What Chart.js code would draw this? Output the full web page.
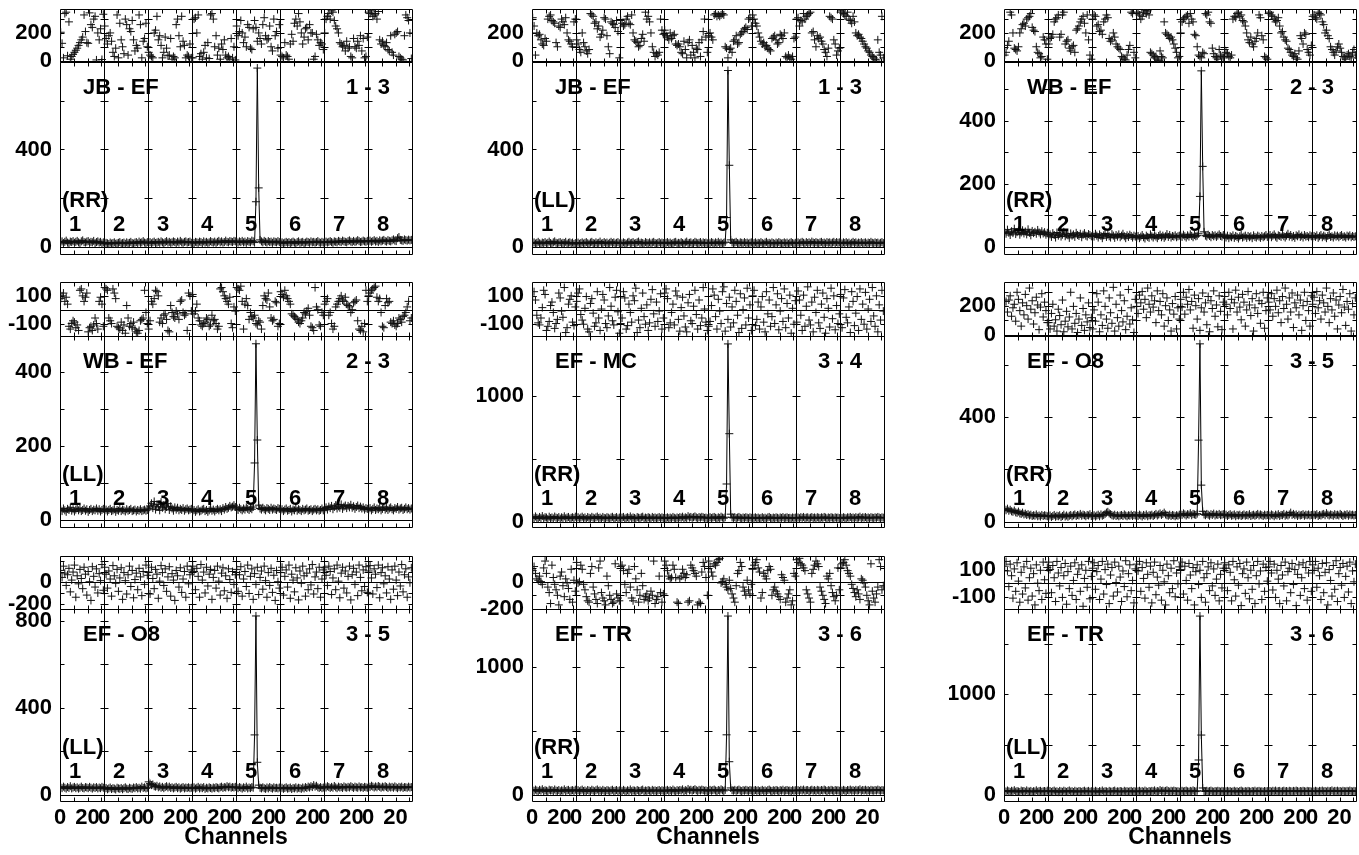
<!DOCTYPE html>
<html>
<head>
<meta charset="utf-8">
<title>POSSM spectra</title>
<script src="https://cdn.jsdelivr.net/npm/chart.js@4.4.1/dist/chart.umd.min.js"></script>
<style>
  html, body { margin: 0; padding: 0; background: #fff; }
  #wrap { position: relative; width: 1359px; height: 855px; overflow: hidden; background: #fff; }
  #wrap canvas { position: absolute; }
</style>
</head>
<body>
<div id="wrap"></div>
<script>
// ---- data: 8 IFs x 32 channels per baseline ----
const NCHAN = 32;
const NIF = 8;
const ifLabels = ['1', '2', '3', '4', '5', '6', '7', '8'];
const baselineNames = ['JB - EF', 'JB - EF', 'WB - EF', 'WB - EF', 'EF - MC', 'EF - O8', 'EF - O8', 'EF - TR', 'EF - TR'];
const antennaPairs = ['1 - 3', '1 - 3', '2 - 3', '2 - 3', '3 - 4', '3 - 5', '3 - 5', '3 - 6', '3 - 6'];
const polarizations = ['(RR)', '(LL)', '(RR)', '(LL)', '(RR)', '(RR)', '(LL)', '(RR)', '(LL)'];
const channelTickLabels = [0, 20];
const channelTickMarks = [10, 20, 30];
const xTitle = 'Channels';

// phase (degrees)
const phase1 = [ // JB - EF RR
  205,125,20,340,350,35,280,10,30,45,60,75,90,110,130,150,170,330,210,130,125,345,260,240,300,320,5,200,150,230,8,335,
  250,160,120,180,200,140,60,30,90,330,20,270,150,100,50,300,260,40,230,210,290,150,70,110,90,330,260,20,140,160,270,100,
  60,40,30,20,200,220,320,150,180,110,20,60,170,90,35,40,160,10,30,20,260,300,180,100,320,140,110,20,40,30,120,20,
  20,300,310,200,330,30,50,10,60,110,20,130,15,330,340,300,100,180,40,90,10,120,80,150,40,20,30,10,160,20,100,5,
  250,180,210,290,200,130,170,100,260,240,90,80,230,290,240,140,200,160,120,260,310,180,150,160,250,100,70,300,180,210,90,260,
  40,30,20,130,40,30,10,120,190,140,270,300,250,340,280,200,120,170,230,240,150,260,200,200,10,30,190,150,110,130,120,80,
  200,300,320,340,300,360,350,290,250,230,200,130,120,100,110,70,140,90,100,30,20,160,100,90,140,110,180,70,160,20,30,170,
  350,340,360,320,330,340,300,355,150,120,140,110,100,130,80,70,180,60,40,190,200,210,30,20,10,5,180,330,310,290,200,15];
const phase2 = [ // JB - EF LL
  310,250,40,200,180,190,150,120,110,160,140,300,320,330,290,280,270,130,100,250,240,300,280,260,310,200,150,140,120,100,280,300,
  150,120,80,60,200,130,100,70,50,80,340,330,320,270,280,230,250,170,190,220,310,300,180,100,50,280,270,260,240,290,210,20,
  290,270,250,260,300,320,270,260,330,200,150,140,130,100,110,160,190,140,350,300,320,280,200,100,60,30,50,40,60,300,220,190,
  220,180,170,150,200,160,180,190,120,110,120,100,60,50,140,80,20,130,150,40,110,60,20,90,80,130,30,150,210,300,170,60,
  180,200,170,150,330,340,320,330,320,330,340,330,100,90,20,80,90,60,140,150,180,120,130,190,200,210,230,240,225,300,310,250,
  330,300,270,250,200,170,140,120,130,100,110,90,80,70,160,170,180,150,120,130,190,180,160,200,30,20,40,20,10,30,160,170,
  300,310,250,290,280,340,300,320,330,340,350,200,210,150,100,180,160,170,140,120,80,60,30,90,320,310,300,150,120,40,70,90,
  350,360,340,330,320,350,300,290,270,320,280,200,180,190,170,160,140,120,100,90,70,60,40,30,20,10,5,150,60,40,320,20];
const phase3 = [ // WB - EF RR
  40,60,110,140,350,330,200,90,80,70,100,200,230,260,270,250,300,310,320,340,240,220,210,100,60,50,20,30,170,150,120,10,
  120,160,170,190,280,300,310,330,170,190,330,350,120,140,150,90,70,100,110,60,220,230,250,280,300,320,270,200,330,150,40,10,
  300,330,320,250,260,210,220,190,280,300,330,310,160,140,150,200,170,120,100,90,80,30,20,10,5,40,80,110,350,340,60,20,
  340,350,330,300,320,350,360,340,360,330,60,50,40,20,30,10,0,70,30,20,280,200,190,180,160,170,150,120,90,60,20,30,
  200,280,300,310,320,330,270,340,300,280,190,180,100,40,30,20,60,50,340,330,350,280,270,90,50,30,20,10,80,40,30,20,
  80,60,50,30,20,40,300,320,310,340,350,320,330,290,280,250,200,150,130,170,120,100,140,160,200,330,310,180,150,30,20,10,
  340,350,330,320,300,280,290,310,250,200,210,170,150,140,90,80,60,40,30,50,20,10,70,180,160,120,200,190,80,60,40,110,
  320,330,310,300,350,340,330,280,260,200,220,180,160,100,80,60,40,70,100,120,90,60,30,20,10,40,50,30,20,60,80,40];
const phase4 = [ // WB - EF LL
  80,100,120,60,90,40,-120,-140,-100,-80,-90,-130,-110,-150,140,150,100,60,90,120,-160,-130,-120,-150,-110,-60,-100,-140,60,90,40,-120,
  160,150,140,-60,-80,-100,150,120,80,-120,-130,-140,-90,-150,-110,-170,30,-60,-120,-100,-130,-90,-140,-160,-170,-150,-80,-70,-60,140,-20,-100,
  -140,-80,60,40,80,140,130,100,-90,-60,-100,-40,-30,-70,-150,-160,30,-20,-50,-60,-10,-30,-70,60,70,-20,-40,-30,-150,120,100,-10,
  110,-30,-10,40,-60,-80,-110,-120,-100,-90,-60,-70,-120,-110,-40,-80,-70,-100,-140,-120,150,160,130,100,80,60,40,90,-100,-130,20,-10,
  160,150,140,170,60,-140,40,80,30,-70,-20,-50,-60,-40,-100,-110,-80,-90,-140,30,100,80,70,120,20,-60,-80,-70,60,50,-120,-100,
  130,110,90,140,100,80,60,40,-30,-40,-50,-60,-70,-90,-100,-80,-60,-20,-30,-10,10,-40,-120,-130,-150,160,20,0,-110,-120,-20,-40,
  40,60,80,-40,-20,-100,-140,-120,20,40,60,80,100,70,60,90,40,30,20,-20,0,50,60,70,-80,-140,-150,-120,-160,-100,140,60,
  100,120,140,150,160,170,90,60,80,-20,-120,-130,30,80,50,60,-90,-100,-80,-110,-120,-100,-60,-70,-90,-50,-40,-20,20,60,-80,-60];
const phase5 = [ // EF - MC RR
  95,130,70,-40,-95,-110,-60,15,140,110,-150,-120,-85,30,55,-20,-135,-100,-70,120,85,-10,-55,160,-165,-130,40,75,100,-90,-115,20,
  60,120,150,-35,-75,-105,10,95,-140,-160,45,80,-25,-120,-95,130,-60,-150,5,110,70,-100,-130,-45,160,25,-80,-110,90,140,-15,-170,
  -100,-60,130,85,-140,-115,40,-20,-90,100,65,155,-165,-75,-130,10,120,-50,-105,35,-150,-95,75,145,-30,-120,55,-85,-10,115,-140,-60,
  120,150,80,-130,-95,-20,40,-110,135,100,-70,-155,15,90,-45,-125,-160,50,110,-80,-100,25,140,-35,-140,70,-115,-60,160,5,-90,-150,
  -120,-85,30,150,105,-50,-140,75,-10,-100,130,165,-155,45,-70,90,-125,20,-95,140,60,-40,-165,115,-135,0,85,-110,155,-60,35,-150,
  100,140,-115,-70,55,-140,20,95,-90,-160,130,-30,70,-120,-50,160,-100,35,115,-145,-10,80,-85,150,-130,45,-60,105,-170,10,-105,65,
  -90,135,70,-40,-150,105,-120,25,165,-75,-110,55,-160,90,-20,140,-95,-135,40,120,-55,-170,80,10,-125,155,-65,100,-145,30,-100,-30,
  110,-130,85,145,-55,-95,20,-165,130,60,-115,-25,95,-150,150,-70,40,-105,125,-140,5,75,-85,160,-45,-120,100,-160,35,-75,140,-10];
const phase6 = [ // EF - O8 RR
  200,235,160,245,275,130,190,215,95,300,250,170,60,225,140,285,205,110,330,180,240,75,155,265,210,35,195,290,125,230,170,85,
  85,40,150,215,60,105,25,180,135,70,245,20,95,165,55,125,300,40,200,80,150,15,110,260,65,185,30,140,90,225,50,120,
  40,175,95,290,230,20,140,65,310,200,110,45,260,155,80,335,25,215,120,60,280,170,90,240,35,130,320,75,190,105,15,250,
  200,150,280,225,305,180,250,120,330,215,160,275,195,240,85,310,170,235,140,290,60,205,260,100,175,25,220,145,270,40,190,110,
  250,195,300,145,265,215,320,175,235,45,280,205,110,255,30,190,295,160,225,70,270,20,240,185,310,130,210,55,275,165,35,230,
  270,215,140,300,185,250,40,225,315,160,265,195,105,285,230,60,175,305,210,135,255,25,190,290,150,240,80,220,300,45,170,260,
  230,175,290,130,255,200,315,155,240,85,270,185,330,215,110,260,160,295,50,225,190,280,140,245,30,205,300,100,235,170,60,275,
  215,265,150,305,190,240,110,280,225,160,330,200,85,255,175,295,130,245,40,210,270,155,320,195,65,235,180,290,25,220,140,260];
const phase7 = [ // EF - O8 LL
  110,45,150,85,-30,70,130,-90,20,95,160,-140,60,-15,120,35,-60,140,75,-120,100,5,-170,145,55,-45,125,-100,80,15,165,-75,
  140,75,-55,105,30,-130,155,60,-10,120,-85,40,135,-160,90,15,-110,70,150,-40,110,-145,25,85,-70,130,50,-125,100,-20,160,65,
  95,-110,140,35,-60,120,75,-150,10,155,90,-30,125,-85,50,145,-130,80,20,-170,110,60,-45,135,-95,30,100,-140,150,-15,70,115,
  150,100,-70,130,55,-140,165,20,95,-100,140,-35,75,120,-160,45,110,-55,150,10,-120,85,135,-80,60,-150,125,25,-95,100,-20,70,
  120,-85,70,145,-130,30,100,-40,160,-105,55,125,-160,80,-20,140,-115,45,105,-65,150,15,-140,90,-30,130,-95,65,-170,110,5,-55,
  90,140,-120,55,115,-45,160,-150,75,20,-90,135,40,-165,105,-10,150,60,-130,85,-70,125,-25,165,-110,50,95,-60,140,-140,30,115,
  135,65,-30,150,100,-115,40,125,-70,160,10,-145,85,140,-55,105,-100,55,150,-165,70,130,-20,95,-125,160,45,-80,115,-40,145,-95,
  105,155,40,-110,125,75,-50,160,-145,90,135,-15,60,-100,145,30,-160,115,-65,150,20,-125,95,-35,165,-90,70,125,-140,50,-5,135];
const phase8 = [ // EF - TR RR
  80,110,60,20,10,40,0,-20,100,150,60,-40,-80,-160,120,30,-20,-60,-100,-170,40,70,-30,-110,20,-10,-50,-130,90,-150,10,-70,
  140,-10,0,120,90,-20,-60,-110,-140,-150,60,110,-40,-90,-130,-160,100,150,-80,-120,-140,-170,40,-30,-100,-130,-160,-150,130,-90,-120,-140,
  110,120,80,-20,-80,60,90,-40,-120,-140,110,20,-60,-150,-100,60,-30,-130,-110,-90,-140,-120,-70,-100,150,-160,-130,-110,40,-80,-150,-90,
  150,120,80,40,20,30,120,90,30,-150,-160,20,40,90,60,30,50,-150,-140,120,100,80,60,40,-170,-150,-160,70,140,110,30,-100,
  150,110,70,40,130,120,140,160,170,-10,0,20,-20,-40,-60,10,-50,-90,-120,-150,-30,60,80,140,110,-40,-70,-100,10,-60,-90,-20,
  90,120,140,160,100,70,-120,-80,60,40,20,80,110,90,-100,-60,-40,-70,-90,-110,-130,50,30,10,-150,-120,-90,-60,-170,-140,60,40,
  160,140,170,130,120,100,80,-60,-90,-120,-150,60,90,120,150,130,110,-40,-70,-100,-130,-160,40,20,60,-30,-80,-110,-140,-100,100,-60,
  100,130,140,160,120,80,60,40,-20,-50,-80,-110,-60,-90,-130,20,10,-10,-40,-100,-140,-170,130,-70,-120,-150,-90,-40,160,110,-60,-30];
const phase9 = [ // EF - TR LL
  125,160,90,-25,140,55,-110,105,-60,150,15,-140,80,-80,120,-35,160,-125,40,110,-95,70,-160,135,0,-55,95,-120,155,25,-75,115,
  155,100,-70,130,40,-135,160,75,-20,115,-105,55,145,-155,85,-40,125,-90,20,150,-120,65,105,-60,135,-170,35,95,-30,160,-115,50,
  110,150,-45,85,130,-120,30,160,-80,100,-10,140,-150,60,115,-95,155,5,-65,125,45,-135,90,-25,165,-100,70,135,-55,20,-145,105,
  140,90,160,-60,115,35,-110,150,65,-30,125,-145,80,155,-85,45,-15,130,-125,95,10,-160,140,55,-70,110,-40,165,-100,75,-5,120,
  100,155,-80,125,20,-125,145,60,-40,115,-160,85,135,-10,95,-105,160,40,-140,70,120,-55,150,-20,105,-90,30,140,-130,65,-35,110,
  150,110,-55,135,80,-130,160,25,-95,120,-15,145,-165,70,105,-75,155,40,-115,95,-45,130,-150,55,160,-5,90,-120,140,-60,115,15,
  120,160,75,-50,140,-105,95,30,-150,130,60,-20,155,-130,85,110,-70,145,-10,100,-165,65,135,-90,40,150,-40,115,-125,75,160,-60,
  135,95,160,-30,110,55,-120,145,-70,80,150,-160,100,20,-95,130,-45,165,-135,70,115,-15,145,-105,50,125,-65,155,-150,90,10,140];

// amplitude
const amp1 = [ // JB - EF RR
  18,22,15,20,25,17,14,21,19,23,16,20,24,18,15,22,26,19,17,21,23,16,20,18,24,15,19,22,17,20,14,18,
  12,16,14,11,17,13,15,18,12,14,16,19,13,15,17,12,18,14,16,20,15,13,17,19,14,21,16,18,23,17,15,19,
  16,19,14,18,21,15,17,20,16,22,18,15,19,23,17,20,16,18,22,19,15,21,17,24,18,16,20,22,17,19,21,16,
  17,15,20,18,16,21,19,15,22,17,20,16,18,23,19,17,21,16,20,24,18,22,17,19,25,20,18,23,21,19,24,22,
  20,17,22,19,24,18,21,16,23,20,18,25,22,17,185,735,242,28,22,18,24,20,17,23,19,21,16,22,20,18,23,19,
  15,18,14,17,20,16,19,15,18,21,17,14,19,22,16,18,20,15,17,21,19,16,22,18,20,17,19,23,18,16,20,17,
  18,21,17,20,23,19,16,22,20,18,24,21,19,25,22,20,18,23,26,21,19,24,20,22,27,23,19,21,25,22,20,24,
  22,25,20,23,27,21,24,19,26,22,25,28,23,21,27,24,22,26,30,25,23,35,40,28,26,24,30,27,25,29,26,28];
const amp2 = [ // JB - EF LL
  15,18,13,16,20,14,12,17,15,19,13,16,21,15,12,18,22,16,14,17,19,13,16,15,20,12,16,18,14,17,11,15,
  14,17,12,15,18,13,16,19,14,12,17,20,15,13,18,14,16,21,13,15,19,14,17,12,16,20,15,18,13,16,19,14,
  16,13,18,15,12,17,20,14,16,19,13,15,18,21,14,17,15,12,19,16,14,18,13,17,20,15,13,16,19,14,17,15,
  13,16,19,14,17,12,15,18,20,13,16,14,19,15,12,17,21,14,16,18,13,15,20,17,14,16,19,13,18,15,17,14,
  17,14,19,16,13,18,15,20,14,17,12,16,19,120,725,335,28,18,14,17,20,15,13,18,16,14,19,15,17,13,16,18,
  12,15,18,13,16,14,19,15,12,17,20,14,16,13,18,15,12,17,14,19,16,13,15,18,14,17,12,16,19,15,13,16,
  15,18,14,17,20,16,13,19,15,18,14,21,17,15,19,16,14,18,20,15,17,13,19,16,18,14,17,20,15,19,16,18,
  16,13,18,15,19,14,17,12,16,20,15,18,13,17,15,19,14,16,18,13,17,15,20,16,14,18,15,17,13,16,19,15];
const amp3 = [ // WB - EF RR
  48,42,55,45,38,50,44,58,41,47,52,39,46,53,43,49,40,56,45,37,51,44,48,42,54,46,40,50,43,47,39,45,
  35,40,32,44,38,30,46,36,42,33,39,48,34,41,37,29,43,36,40,32,45,38,35,42,31,39,44,36,33,41,38,34,
  38,33,42,36,30,40,35,28,37,43,32,39,34,30,41,36,29,38,33,40,31,36,42,34,28,37,32,39,35,30,36,33,
  30,35,28,33,38,31,27,36,32,29,40,34,30,37,33,28,35,39,31,36,29,34,41,32,38,30,35,33,37,31,34,36,
  36,32,39,34,30,37,33,40,35,31,38,34,36,42,160,557,255,48,36,33,39,35,31,38,34,37,32,36,40,35,33,38,
  33,30,36,28,34,31,37,29,35,32,27,34,38,30,33,36,29,35,31,34,28,37,32,30,36,33,29,35,31,34,38,32,
  34,38,31,36,40,33,29,37,35,32,39,34,30,36,42,33,38,31,35,29,37,34,40,32,36,30,38,33,35,31,37,34,
  30,35,32,37,29,34,38,31,36,33,28,35,39,32,34,30,37,33,36,31,35,38,32,34,30,36,33,37,31,35,32,34];
const amp4 = [ // WB - EF LL
  28,24,31,26,22,30,27,33,25,29,23,28,32,26,30,24,27,31,25,29,22,27,30,24,28,26,31,25,29,23,27,30,
  25,28,23,27,30,24,26,29,22,27,25,31,24,28,26,23,29,25,27,30,24,26,28,23,27,25,29,24,26,28,25,27,
  30,38,45,32,50,28,42,36,26,48,33,40,29,35,44,27,37,31,25,34,28,33,26,30,27,32,25,29,31,26,28,30,
  24,27,22,26,29,23,25,28,30,24,27,22,26,31,25,28,23,27,30,26,29,24,32,28,35,30,33,38,34,36,40,35,
  30,27,33,29,26,31,28,34,30,27,32,29,35,154,476,216,40,31,28,33,29,26,32,30,27,33,28,31,29,27,32,30,
  26,29,24,28,31,25,27,30,23,28,26,32,25,29,27,24,30,26,28,31,25,27,29,24,28,30,26,29,25,27,31,26,
  30,34,28,36,32,38,29,35,40,31,37,33,42,30,36,39,32,38,34,41,33,37,30,35,39,32,36,31,34,28,32,30,
  28,32,26,30,34,27,31,29,33,26,30,35,28,32,27,31,34,29,26,32,30,35,28,31,33,27,30,34,29,32,28,31];
const amp5 = [ // EF - MC RR
  35,28,42,31,25,38,30,45,27,36,33,22,40,29,34,26,41,32,28,37,24,35,30,43,27,33,38,25,31,36,29,40,
  30,36,25,33,40,28,34,22,37,31,27,39,32,26,35,41,29,33,24,38,30,27,36,32,25,34,39,28,31,37,26,33,
  28,33,38,25,31,36,29,42,27,34,30,24,37,32,28,35,40,26,33,29,36,31,25,38,30,34,27,32,37,28,35,30,
  25,30,35,28,33,27,38,31,26,34,29,36,32,40,28,35,30,44,33,38,31,36,42,34,29,37,32,39,35,30,33,28,
  32,36,29,34,38,31,27,35,30,40,33,28,36,300,1414,700,60,35,30,36,29,33,38,31,27,34,30,36,32,28,35,31,
  27,31,35,29,33,26,30,36,28,32,25,34,38,30,27,33,29,35,31,26,34,30,37,28,32,35,29,31,27,34,30,33,
  30,34,28,36,31,38,29,33,35,27,32,37,30,34,28,36,32,29,35,31,38,33,27,34,30,36,32,28,35,31,33,29,
  33,29,36,31,27,35,32,38,30,34,28,36,31,33,40,29,35,32,37,30,34,28,36,32,30,35,31,38,33,29,35,32];
const amp6 = [ // EF - O8 RR
  48,44,50,42,46,40,38,43,36,34,39,32,30,35,28,31,26,29,24,27,22,25,23,28,21,24,20,26,22,25,23,21,
  20,24,18,22,26,19,23,21,25,18,22,27,20,24,19,23,26,21,25,28,22,26,24,30,23,27,25,21,26,24,29,22,
  22,25,20,24,27,21,28,23,26,30,35,38,32,29,25,23,27,22,25,21,24,26,22,28,24,21,25,23,27,22,26,24,
  25,22,27,24,20,26,23,28,21,25,24,27,22,26,30,24,28,32,26,30,35,28,25,23,27,22,26,24,21,25,23,27,
  30,26,32,28,24,29,27,33,25,30,28,26,31,312,680,140,40,28,25,30,27,23,29,26,31,24,28,26,30,25,27,29,
  24,27,22,26,29,23,25,28,21,26,24,27,22,25,28,23,26,24,29,22,25,27,23,26,30,24,28,25,22,27,24,26,
  26,23,28,25,21,27,24,29,22,26,25,30,23,27,24,28,35,26,30,25,28,22,27,24,26,29,23,27,25,28,24,26,
  23,27,25,29,22,26,24,28,30,25,33,27,24,28,26,23,29,25,27,24,30,26,22,27,25,29,23,28,25,27,24,26];
const amp7 = [ // EF - O8 LL
  35,31,38,33,29,36,32,40,30,34,37,31,35,29,33,38,32,30,36,34,31,37,33,29,35,32,36,30,34,31,37,33,
  28,32,26,30,34,27,31,29,25,33,30,28,32,26,31,35,29,27,33,30,28,34,31,36,30,33,29,38,32,35,30,33,
  60,52,45,48,40,38,42,35,39,33,37,31,36,40,34,38,32,35,30,34,37,31,35,29,33,36,30,34,32,35,31,33,
  32,35,29,33,37,30,34,31,36,28,33,30,35,32,29,34,31,36,33,30,35,38,32,36,34,40,35,38,33,36,34,37,
  34,31,36,33,29,35,32,38,30,34,31,36,33,276,823,150,45,33,30,35,31,28,34,30,36,32,29,35,31,33,30,34,
  30,33,28,32,35,29,31,34,27,32,30,35,29,33,31,28,34,30,36,32,38,34,40,36,45,38,42,35,32,36,31,34,
  38,34,40,36,32,37,33,41,35,31,38,34,36,32,39,35,33,37,34,40,36,32,38,35,33,39,34,36,32,37,35,33,
  40,36,42,38,34,39,35,41,37,33,38,35,40,36,32,38,34,37,33,39,35,31,37,34,38,32,36,35,33,38,34,36];
const amp8 = [ // EF - TR RR
  38,32,42,35,30,40,34,45,31,37,33,28,41,35,38,30,43,34,32,39,29,36,33,44,31,37,40,30,35,38,32,41,
  33,38,29,36,42,31,35,27,39,34,30,41,35,29,37,43,32,36,28,40,33,30,38,35,29,36,41,31,34,39,30,36,
  35,30,40,33,28,37,32,43,30,36,34,29,39,33,31,37,42,30,35,32,38,34,29,40,33,36,31,35,39,30,37,33,
  30,35,40,32,37,31,42,34,29,38,33,39,35,44,31,38,33,47,36,41,34,39,45,37,32,40,35,42,38,33,36,31,
  36,40,33,38,42,35,31,39,34,44,37,32,40,470,1398,260,55,38,34,40,33,37,42,35,31,38,34,40,36,32,39,35,
  31,35,39,33,37,30,34,40,32,36,29,38,42,34,31,37,33,39,35,30,38,34,41,32,36,39,33,35,31,38,34,37,
  34,38,32,40,35,42,33,37,39,31,36,41,34,38,32,40,36,33,39,35,42,37,31,38,34,40,36,32,39,35,37,33,
  37,33,40,35,31,39,36,42,34,38,32,40,35,37,44,33,39,36,41,34,38,32,40,36,34,39,35,42,37,33,39,36];
const amp9 = [ // EF - TR LL
  40,34,45,37,31,42,36,48,33,39,35,30,44,37,40,32,46,36,34,41,31,38,35,47,33,39,42,32,37,40,34,43,
  35,40,31,38,44,33,37,29,41,36,32,43,37,31,39,45,34,38,30,42,35,32,40,37,31,38,43,33,36,41,32,38,
  37,32,42,35,30,39,34,45,32,38,36,31,41,35,33,39,44,32,37,34,40,36,31,42,35,38,33,37,41,32,39,35,
  32,37,42,34,39,33,44,36,31,40,35,41,37,46,33,40,35,49,38,43,36,41,47,39,34,42,37,44,40,35,38,33,
  38,42,35,40,44,37,33,41,36,46,39,34,42,347,1772,594,70,40,36,42,35,39,44,37,33,40,36,42,38,34,41,37,
  33,37,41,35,39,32,36,42,34,38,31,40,44,36,33,39,35,41,37,32,40,36,43,34,38,41,35,37,33,40,36,39,
  36,40,34,42,37,44,35,39,41,33,38,43,36,40,34,42,38,35,41,37,44,39,33,40,36,42,38,34,41,37,39,35,
  39,35,42,37,33,41,38,44,36,40,34,42,37,39,46,35,41,38,43,36,40,34,42,38,36,41,37,44,39,35,41,38];

const phaseSeries = [phase1, phase2, phase3, phase4, phase5, phase6, phase7, phase8, phase9];
const ampSeries = [amp1, amp2, amp3, amp4, amp5, amp6, amp7, amp8, amp9];

// axis ranges / tick labels per panel
const phaseRange = [[-10, 373], [-10, 373], [-10, 373], [-190, 200], [-190, 200], [-10, 373], [-250, 245], [-200, 187], [-190, 200]];
const phaseTicks = [[0, 200], [0, 200], [0, 200], [-100, 100], [-100, 100], [0, 200], [-200, 0], [-200, 0], [-100, 100]];
const ampRange = [[-30, 760], [-30, 760], [-22, 585], [-19, 497], [-42, 1477], [-20, 710], [-28, 855], [-47, 1453], [-59, 1842]];
const ampTicks = [[0, 400], [0, 400], [0, 200, 400], [0, 200, 400], [0, 1000], [0, 400], [0, 400, 800], [0, 1000], [0, 1000]];
const ampTickStep = [200, 200, 100, 100, 500, 200, 200, 500, 500];

// ---- layout ----
const W = 1359, H = 855, OFF = 30;
const colLeft = [60, 532, 1004];
const plotW = 352;
const phaseTop = [9, 282, 556];
const ampTop = [62, 336, 609];
const ampBottom = [254, 527, 801];
const Y_AXIS_W = 55, X_AXIS_H = 54;
const FONT = '"Liberation Sans", Arial, Helvetica, sans-serif';

Chart.defaults.font.family = FONT;

const possmPlugin = {
  id: 'possm',
  beforeDatasetsDraw(chart, args, opts) {
    const { ctx, chartArea: a } = chart;
    const xs = chart.scales.x, ys = chart.scales.y;
    const px = v => Math.round(v) + 0.5;
    const l = px(a.left), r = px(a.right), t = px(a.top), b = px(a.bottom);
    ctx.save();
    ctx.strokeStyle = '#000';
    ctx.lineWidth = 1;
    ctx.beginPath();
    ctx.moveTo(l, t); ctx.lineTo(r, t); ctx.lineTo(r, b); ctx.lineTo(l, b); ctx.closePath();
    const edges = [];
    for (let k = 0; k <= NIF; k++) edges.push(px(xs.getPixelForValue(k * NCHAN)));
    edges.slice(1, -1).forEach(ex => { ctx.moveTo(ex, t); ctx.lineTo(ex, b); });
    const z = px(ys.getPixelForValue(0));
    ctx.moveTo(l, z); ctx.lineTo(r, z);
    // channel tick marks, inward
    for (let k = 0; k < NIF; k++) {
      channelTickMarks.forEach(c => {
        const cx = px(xs.getPixelForValue(k * NCHAN + c));
        ctx.moveTo(cx, t); ctx.lineTo(cx, t + 4);
        ctx.moveTo(cx, b); ctx.lineTo(cx, b - 4);
      });
    }
    // value tick marks on every IF border
    const step = opts.step;
    for (let v = Math.ceil(ys.min / step) * step; v <= ys.max; v += step) {
      const vy = px(ys.getPixelForValue(v));
      if (vy <= t + 1 || vy >= b - 1) continue;
      edges.forEach((ex, k) => {
        ctx.moveTo(k === 0 ? ex : ex - 4, vy);
        ctx.lineTo(k === NIF ? ex : ex + 4, vy);
      });
    }
    ctx.stroke();
    ctx.restore();
  },
  afterDatasetsDraw(chart, args, opts) {
    if (!opts.texts) return;
    const { ctx, chartArea: a } = chart;
    const xs = chart.scales.x;
    const tx = opts.texts;
    ctx.save();
    ctx.fillStyle = '#000';
    ctx.font = 'bold 22px ' + FONT;
    ctx.textBaseline = 'middle';
    ctx.textAlign = 'left';
    ctx.fillText(tx.name, a.left + 23, a.top + 26);
    ctx.fillText(tx.pol, a.left + 2, a.top + 139);
    ctx.textAlign = 'right';
    ctx.fillText(tx.pair, a.right - 22, a.top + 26);
    ctx.textAlign = 'center';
    ifLabels.forEach((lab, k) => {
      ctx.fillText(lab, xs.getPixelForValue(k * NCHAN) + 15, a.top + 163);
    });
    ctx.restore();
  }
};

function toPoints(values, breakAtIF) {
  const pts = [];
  values.forEach((v, i) => {
    const k = Math.floor(i / NCHAN), c = i % NCHAN;
    if (breakAtIF && c === 0 && k > 0) pts.push({ x: k * NCHAN, y: null });
    pts.push({ x: k * NCHAN + c + 0.5, y: v });
  });
  return pts;
}

const wrap = document.getElementById('wrap');

function makeChart(p, kind) {
  const row = Math.floor(p / 3), col = p % 3;
  const isAmp = kind === 'amp';
  const showX = isAmp && row === 2;
  const top = isAmp ? ampTop[row] : phaseTop[row];
  const bottom = isAmp ? ampBottom[row] : ampTop[row];
  const range = isAmp ? ampRange[p] : phaseRange[p];
  const labels = isAmp ? ampTicks[p] : phaseTicks[p];

  const canvas = document.createElement('canvas');
  canvas.width = W + 2 * OFF;
  canvas.height = H + 2 * OFF;
  canvas.style.left = -OFF + 'px';
  canvas.style.top = -OFF + 'px';
  wrap.appendChild(canvas);

  const tickFont = { family: FONT, size: 22, weight: 'bold' };

  new Chart(canvas, {
    type: 'scatter',
    data: {
      datasets: [{
        data: toPoints(isAmp ? ampSeries[p] : phaseSeries[p], isAmp),
        showLine: isAmp,
        spanGaps: false,
        borderColor: '#000',
        borderWidth: 1,
        pointStyle: 'cross',
        pointRadius: 4,
        pointBorderColor: '#111',
        pointBorderWidth: 1
      }]
    },
    options: {
      responsive: false,
      animation: false,
      devicePixelRatio: 1,
      events: [],
      layout: {
        padding: {
          left: colLeft[col] + OFF - Y_AXIS_W,
          top: top + OFF,
          right: W - (colLeft[col] + plotW) + OFF,
          bottom: H - bottom + OFF - (showX ? X_AXIS_H : 0)
        }
      },
      plugins: {
        legend: { display: false },
        tooltip: { enabled: false },
        possm: {
          step: isAmp ? ampTickStep[p] : 100,
          texts: isAmp ? { name: baselineNames[p], pair: antennaPairs[p], pol: polarizations[p] } : null
        }
      },
      scales: {
        x: {
          type: 'linear',
          min: 0,
          max: NIF * NCHAN,
          display: showX,
          afterFit: s => { if (showX) s.height = X_AXIS_H; },
          afterBuildTicks: s => {
            const t = [];
            for (let k = 0; k < NIF; k++) channelTickLabels.forEach(c => t.push({ value: k * NCHAN + c }));
            s.ticks = t;
          },
          grid: { display: false, drawTicks: false },
          border: { display: false },
          ticks: {
            autoSkip: false, maxRotation: 0, minRotation: 0, padding: 4,
            color: '#000', font: tickFont,
            callback: v => String(v % NCHAN)
          },
          title: {
            display: true, text: xTitle, color: '#000',
            font: { family: FONT, size: 23, weight: 'bold' },
            padding: { top: 0, bottom: 4 }
          }
        },
        y: {
          type: 'linear',
          min: range[0],
          max: range[1],
          afterFit: s => { s.width = Y_AXIS_W; },
          afterBuildTicks: s => { s.ticks = labels.map(v => ({ value: v })); },
          grid: { display: false, drawTicks: false },
          border: { display: false },
          ticks: {
            autoSkip: false, padding: 8, color: '#000', font: tickFont,
            callback: v => String(v)
          }
        }
      }
    },
    plugins: [possmPlugin]
  });
}

for (let p = 0; p < 9; p++) {
  makeChart(p, 'phase');
  makeChart(p, 'amp');
}
</script>
</body>
</html>
